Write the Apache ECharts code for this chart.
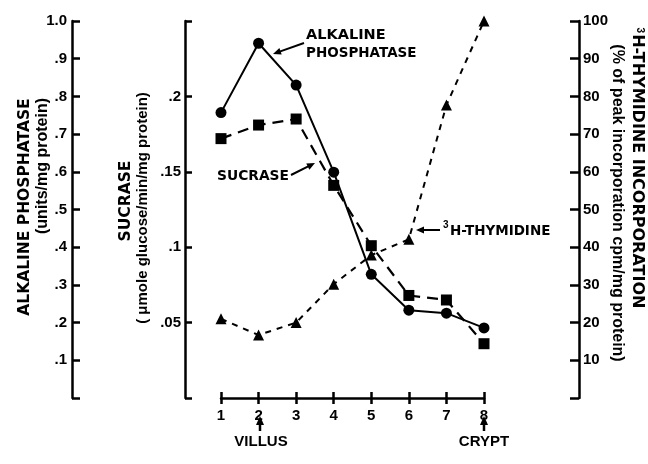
<!DOCTYPE html>
<html>
<head>
<meta charset="utf-8">
<script src="https://cdn.jsdelivr.net/npm/echarts@6/dist/echarts.min.js"></script>
<style>html,body{margin:0;padding:0;background:#fff}#c{width:648px;height:464px}</style>
</head>
<body>
<div id="c"></div>
<script>
// ---- data ----
const positions = [1, 2, 3, 4, 5, 6, 7, 8];
const xTickLabels = ['1', '2', '3', '4', '5', '6', '7', '8'];
const alkalinePhosphatase = [0.757, 0.941, 0.830, 0.599, 0.328, 0.233, 0.225, 0.186];
const sucrase = [0.172, 0.181, 0.185, 0.141, 0.101, 0.068, 0.065, 0.036];
const thymidine = [21, 16.7, 20, 30.2, 37.9, 42.1, 77.7, 100];
const alkTickLabels = ['', '.1', '.2', '.3', '.4', '.5', '.6', '.7', '.8', '.9', '1.0'];
const sucTickLabels = ['', '.05', '.1', '.15', '.2', ''];
const thyTickLabels = ['', '10', '20', '30', '40', '50', '60', '70', '80', '90', '100'];

const FONT = '"Liberation Sans", Arial, Helvetica, sans-serif';
const WIDE = '"DejaVu Sans", "Liberation Sans", sans-serif';
const TICK_COLOR = '#000';

function pairs(vals) { return positions.map((x, i) => [x, vals[i]]); }

function arrow(x1, y1, x2, y2, head, w, lw) {
  head = head || 8;
  w = w || 3.5;
  const a = Math.atan2(y2 - y1, x2 - x1);
  const bx = x2 - head * Math.cos(a), by = y2 - head * Math.sin(a);
  const px = -Math.sin(a) * w, py = Math.cos(a) * w;
  return [
    { type: 'line', shape: { x1: x1, y1: y1, x2: bx + Math.cos(a), y2: by + Math.sin(a) }, style: { stroke: '#000', lineWidth: lw || 2 }, z: 20 },
    { type: 'polygon', shape: { points: [[x2, y2], [bx + px, by + py], [bx - px, by - py]] }, style: { fill: '#000' }, z: 20 }
  ];
}

function txt(x, y, text, opts) {
  opts = opts || {};
  return {
    type: 'text', x: x, y: y, rotation: opts.rotation || 0, z: 20,
    style: {
      text: text,
      font: 'bold ' + (opts.size || 15) + 'px ' + (opts.family || FONT),
      fill: '#000',
      align: opts.align || 'left', textAlign: opts.align || 'left',
      verticalAlign: 'middle', textVerticalAlign: 'middle'
    }
  };
}

function yAxisDef(position, offset, max, interval, tickLen, margin, labels) {
  return {
    type: 'value', position: position, offset: offset, min: 0, max: max, interval: interval,
    axisLine: { show: true, lineStyle: { color: '#000', width: 2.5 } },
    axisTick: { show: true, inside: true, length: tickLen, lineStyle: { color: TICK_COLOR, width: 2.5 } },
    splitLine: { show: false },
    axisLabel: { color: '#000', fontSize: 15, fontWeight: 'bold', fontFamily: FONT, margin: margin,
                 formatter: v => labels[Math.round(v / interval)] || '' }
  };
}

const chart = echarts.init(document.getElementById('c'));

const supRich = {
  s: { fontSize: 10, fontWeight: 'bold', fontFamily: FONT, verticalAlign: 'top', padding: [0, 1, 0, 0] },
  n: { fontSize: 16, fontWeight: 'bold', fontFamily: WIDE }
};

const graphics = [].concat(
  [txt(25, 207, 'ALKALINE PHOSPHATASE', { rotation: Math.PI / 2, align: 'center', size: 15.5, family: WIDE }),
   txt(43, 166, '(units/mg protein)', { rotation: Math.PI / 2, align: 'center', size: 16 }),
   txt(126, 201, 'SUCRASE', { rotation: Math.PI / 2, align: 'center', size: 15.5, family: WIDE }),
   txt(143, 208, '( \u03bcmole glucose/min/mg protein)', { rotation: Math.PI / 2, align: 'center', size: 15 }),
   {
     type: 'text', x: 637, y: 168, rotation: -Math.PI / 2, z: 20,
     style: { text: '{s|3}{n|H-THYMIDINE INCORPORATION}', rich: supRich, fill: '#000',
              align: 'center', textAlign: 'center', verticalAlign: 'middle', textVerticalAlign: 'middle' }
   },
   txt(617, 203, '(% of peak incorporation cpm/mg protein)', { rotation: -Math.PI / 2, align: 'center', size: 16 }),
   txt(306, 35, 'ALKALINE', { size: 14.5, family: WIDE }),
   txt(306, 53, 'PHOSPHATASE', { size: 13.5, family: WIDE }),
   txt(217, 176, 'SUCRASE', { size: 13.8, family: WIDE }),
   txt(443, 225, '3', { size: 10 }),
   txt(450, 231, 'H-THYMIDINE', { size: 13.5, family: WIDE }),
   txt(261, 442, 'VILLUS', { align: 'center', size: 15 }),
   txt(484, 442, 'CRYPT', { align: 'center', size: 15 })
  ],
  arrow(304, 43, 273, 54),
  arrow(291, 175, 315, 163),
  arrow(440, 230, 416, 230),
  arrow(260, 431, 260, 416, 9, 4, 2.5),
  arrow(484, 431, 484, 416, 9, 4, 2.5)
);

chart.setOption({
  animation: false,
  backgroundColor: '#fff',
  grid: { left: 221, right: 164, top: 21, bottom: 66 },
  xAxis: [
    {
      type: 'value', position: 'bottom', min: 1, max: 8, interval: 1,
      axisLine: { show: true, lineStyle: { color: '#000', width: 2.5 } },
      axisTick: { show: true, inside: false, length: 6, lineStyle: { color: '#000', width: 2.5 } },
      splitLine: { show: false },
      axisLabel: { color: '#000', fontSize: 15, fontWeight: 'bold', fontFamily: FONT, margin: 10,
                   formatter: v => xTickLabels[Math.round(v) - 1] || '' }
    },
    {
      type: 'value', position: 'bottom', min: 1, max: 8, interval: 1,
      axisLine: { show: false },
      axisTick: { show: true, inside: true, length: 6, lineStyle: { color: '#000', width: 2.5 } },
      splitLine: { show: false },
      axisLabel: { show: false }
    }
  ],
  yAxis: [
    yAxisDef('left', 149, 1, 0.1, 8, 5, alkTickLabels),
    yAxisDef('left', 36, 0.25, 0.05, 7, 4, sucTickLabels),
    yAxisDef('right', 95, 100, 10, 9, 4, thyTickLabels)
  ],
  series: [
    {
      name: 'Alkaline phosphatase', type: 'line', xAxisIndex: 0, yAxisIndex: 0,
      data: pairs(alkalinePhosphatase),
      symbol: 'circle', symbolSize: 11,
      lineStyle: { color: '#000', width: 2, type: 'solid' },
      itemStyle: { color: '#000' }, z: 5
    },
    {
      name: 'Sucrase', type: 'line', xAxisIndex: 0, yAxisIndex: 1,
      data: pairs(sucrase),
      symbol: 'rect', symbolSize: 11,
      lineStyle: { color: '#000', width: 2.2, type: [11, 7] },
      itemStyle: { color: '#000' }, z: 4
    },
    {
      name: '3H-Thymidine', type: 'line', xAxisIndex: 0, yAxisIndex: 2,
      data: pairs(thymidine),
      symbol: 'triangle', symbolSize: 11,
      lineStyle: { color: '#000', width: 2, type: [6, 6] },
      itemStyle: { color: '#000' }, z: 3
    }
  ],
  graphic: graphics
});
</script>
</body>
</html>
